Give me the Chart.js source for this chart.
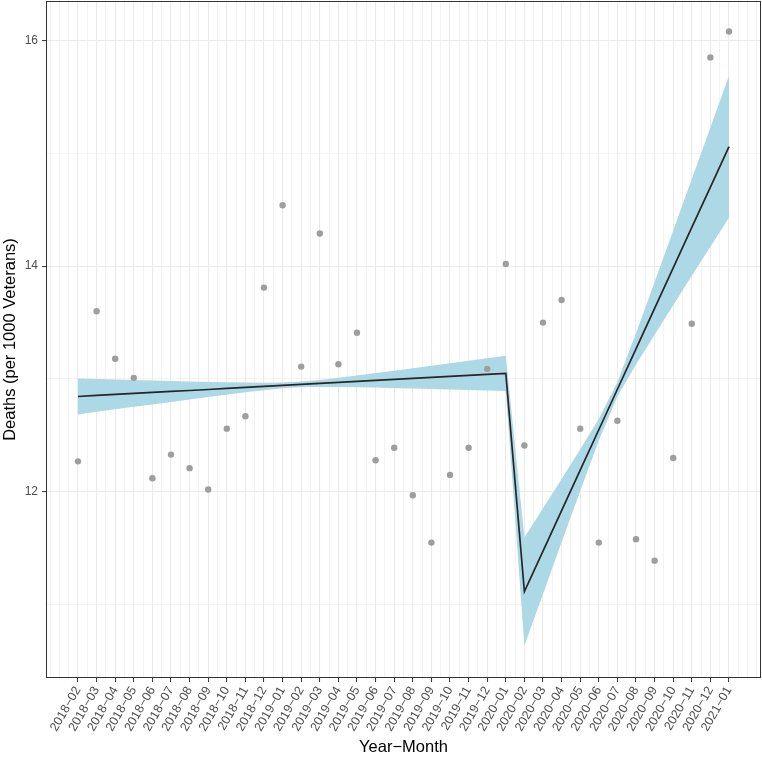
<!DOCTYPE html>
<html>
<head>
<meta charset="utf-8">
<script src="https://cdn.jsdelivr.net/npm/chart.js@4"></script>
<style>
  html, body { margin: 0; padding: 0; background: #fff; }
  #wrap { width: 762px; height: 758px; position: relative; }
</style>
</head>
<body>
<div id="wrap"><canvas id="chart"></canvas></div>
<script>
// months on the x axis (R draws the hyphen as a minus sign)
const months = [
  '2018−02','2018−03','2018−04','2018−05','2018−06','2018−07','2018−08','2018−09','2018−10','2018−11','2018−12',
  '2019−01','2019−02','2019−03','2019−04','2019−05','2019−06','2019−07','2019−08','2019−09','2019−10','2019−11','2019−12',
  '2020−01','2020−02','2020−03','2020−04','2020−05','2020−06','2020−07','2020−08','2020−09','2020−10','2020−11','2020−12',
  '2021−01'
];

// observed deaths per 1000 veterans
const deaths = [
  12.27, 13.60, 13.18, 13.01, 12.12, 12.33, 12.21, 12.02, 12.56, 12.67, 13.81,
  14.54, 13.11, 14.29, 13.13, 13.41, 12.28, 12.39, 11.97, 11.55, 12.15, 12.39, 13.09,
  14.02, 12.41, 13.50, 13.70, 12.56, 11.55, 12.63, 11.58, 11.39, 12.30, 13.49, 15.85,
  16.08
];

// segmented fit and its confidence band
const fitLine = [
  12.845, 12.854, 12.863, 12.872, 12.881, 12.890, 12.898, 12.907, 12.916, 12.925, 12.934,
  12.943, 12.952, 12.961, 12.970, 12.979, 12.988, 12.996, 13.005, 13.014, 13.023, 13.032, 13.041,
  13.050, 11.116, 11.475, 11.833, 12.192, 12.550, 12.909, 13.267, 13.626, 13.984, 14.343, 14.701,
  15.060
];
const bandHigh = [
  13.004, 12.999, 12.995, 12.991, 12.987, 12.983, 12.978, 12.974, 12.971, 12.968, 12.967,
  12.969, 12.978, 12.992, 13.011, 13.031, 13.052, 13.073, 13.095, 13.117, 13.139, 13.161, 13.184,
  13.206, 11.595, 11.855, 12.114, 12.377, 12.646, 12.974, 13.406, 13.859, 14.315, 14.772, 15.229,
  15.688
];
const bandLow = [
  12.686, 12.709, 12.731, 12.753, 12.775, 12.797, 12.818, 12.840, 12.861, 12.882, 12.901,
  12.917, 12.926, 12.930, 12.929, 12.927, 12.924, 12.919, 12.915, 12.911, 12.907, 12.903, 12.898,
  12.894, 10.637, 11.095, 11.552, 12.007, 12.454, 12.844, 13.128, 13.393, 13.653, 13.914, 14.173,
  14.432
];

const yTicks = [11, 12, 13, 14, 15, 16];
const yLabelled = [12, 14, 16];

const FONT = "'Liberation Sans', Arial, sans-serif";
const pts = arr => arr.map((v, i) => ({ x: i, y: v }));
const isMajorX = v => Number.isInteger(v) && v >= 0 && v < months.length;

// xs for grid: every half month across the panel
const xGrid = [];
for (let v = -1.5; v <= months.length + 0.5; v += 0.5) xGrid.push(v);

// dark frame round the panel, like theme_bw
const panelBorder = {
  id: 'panelBorder',
  afterDatasetsDraw(chart) {
    const { ctx, chartArea: a } = chart;
    ctx.save();
    ctx.strokeStyle = '#333333';
    ctx.lineWidth = 1;
    ctx.strokeRect(a.left + 0.5, a.top + 0.5, a.right - a.left - 1, a.bottom - a.top - 1);
    ctx.restore();
  }
};

const ctx = document.getElementById('chart').getContext('2d');
new Chart(ctx, {
  type: 'line',
  data: {
    datasets: [
      {
        label: 'upper',
        data: pts(bandHigh),
        borderWidth: 0,
        pointRadius: 0,
        backgroundColor: '#ADD8E6',
        fill: '+1',
        order: 3
      },
      {
        label: 'lower',
        data: pts(bandLow),
        borderWidth: 0,
        pointRadius: 0,
        fill: false,
        order: 4
      },
      {
        label: 'fit',
        data: pts(fitLine),
        borderColor: '#262626',
        borderWidth: 1.7,
        pointRadius: 0,
        fill: false,
        tension: 0,
        order: 1
      },
      {
        label: 'deaths',
        data: pts(deaths),
        showLine: false,
        pointRadius: 3.2,
        pointBorderWidth: 0,
        pointBackgroundColor: '#9E9E9E',
        order: 0
      }
    ]
  },
  options: {
    animation: false,
    responsive: true,
    maintainAspectRatio: false,
    layout: { autoPadding: false, padding: { top: 1, right: 1, left: 0, bottom: 0 } },
    plugins: {
      legend: { display: false },
      tooltip: { enabled: false }
    },
    scales: {
      x: {
        type: 'linear',
        min: -1.72,
        max: months.length - 1 + 1.72,
        afterBuildTicks: axis => { axis.ticks = xGrid.map(v => ({ value: v })); },
        afterFit: axis => {
          axis.height = 80;
          axis.paddingLeft = 0;
          axis.paddingRight = 0;
        },
        border: { display: false },
        grid: {
          color: '#EBEBEB',
          lineWidth: c => isMajorX(c.tick.value) ? 1.1 : 0.6,
          tickLength: 4,
          tickColor: c => isMajorX(c.tick.value) ? '#333333' : 'rgba(0,0,0,0)',
          tickWidth: 1
        },
        ticks: {
          autoSkip: false,
          minRotation: 60,
          maxRotation: 60,
          padding: 2,
          color: '#4D4D4D',
          font: { family: FONT, size: 12.5 },
          callback: v => isMajorX(v) ? months[v] : ''
        },
        title: {
          display: true,
          text: 'Year−Month',
          color: '#000000',
          font: { family: FONT, size: 16.5 },
          padding: { top: 0, bottom: 1 }
        }
      },
      y: {
        min: 10.35,
        max: 16.35,
        afterBuildTicks: axis => { axis.ticks = yTicks.map(v => ({ value: v })); },
        afterFit: axis => {
          axis.width = 46;
          axis.paddingTop = 0;
          axis.paddingBottom = 0;
        },
        border: { display: false },
        grid: {
          color: '#EBEBEB',
          lineWidth: c => yLabelled.includes(c.tick.value) ? 1.1 : 0.6,
          tickLength: 4,
          tickColor: c => yLabelled.includes(c.tick.value) ? '#333333' : 'rgba(0,0,0,0)',
          tickWidth: 1
        },
        ticks: {
          padding: 4,
          color: '#4D4D4D',
          font: { family: FONT, size: 12 },
          callback: v => yLabelled.includes(v) ? String(v) : ''
        },
        title: {
          display: true,
          text: 'Deaths (per 1000 Veterans)',
          color: '#000000',
          font: { family: FONT, size: 16.5 },
          padding: { top: 1, bottom: 0 }
        }
      }
    }
  },
  plugins: [panelBorder]
});
</script>
</body>
</html>
